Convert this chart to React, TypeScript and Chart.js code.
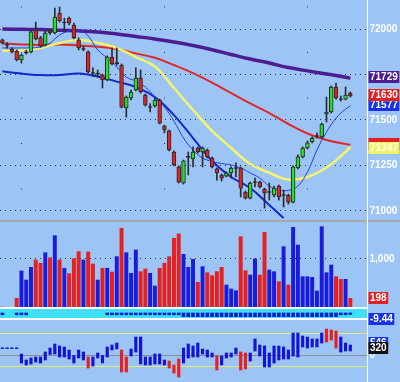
import React, { useEffect, useRef } from 'react';
import { Chart, registerables } from 'chart.js';

Chart.register(...registerables);

const FONT = '"Liberation Sans", Arial, Helvetica, sans-serif';
const BG = '#9cc5f6';
const SLOTS = 77;
const slotLabels = Array.from({ length: SLOTS }, (_, i) => String(i));

// ---------- price candles ----------
const opens = [71940,71915,71890,71879,71830,71868,71874,71995,71951,71912,71990,71978,72088,72033,72060,72022,71940,71888,71874,71760,71752,71747,71720,71846,71810,71802,71566,71621,71665,71731,71637,71569,71577,71610,71467,71440,71324,71242,71154,71295,71286,71346,71324,71335,71291,71231,71198,71192,71209,71234,71236,71104,71071,71157,71159,71121,71102,71088,71137,71086,71088,71049,71236,71297,71346,71379,71410,71407,71533,71544,71681,71617,71615,71648];
const closes = [71923,71910,71874,71830,71857,71874,71984,71945,71907,71978,71978,72066,72044,72038,72033,71951,71896,71893,71764,71756,71758,71720,71846,71808,71815,71571,71626,71654,71731,71654,71582,71574,71610,71483,71445,71335,71253,71159,71275,71300,71324,71324,71346,71297,71242,71209,71181,71209,71236,71238,71126,71071,71154,71162,71132,71099,71107,71126,71077,71090,71049,71242,71297,71346,71374,71401,71414,71478,71544,71681,71621,71613,71637,71632];
const highs = [71945,71925,71896,71885,71862,71885,71990,72038,71960,71990,72000,72115,72121,72060,72066,72033,71951,71907,71880,71786,71775,71753,71852,71896,71896,71808,71632,71665,71786,71775,71643,71590,71621,71615,71472,71445,71330,71248,71280,71324,71352,71352,71352,71341,71297,71237,71204,71215,71242,71264,71242,71110,71159,71181,71165,71126,71154,71137,71143,71115,71093,71248,71308,71352,71385,71407,71429,71483,71626,71687,71703,71632,71681,71654];
const lows = [71918,71895,71868,71825,71813,71862,71868,71940,71900,71907,71970,71973,72038,71984,72022,71945,71885,71880,71758,71740,71735,71676,71715,71802,71800,71566,71516,71610,71660,71648,71577,71544,71571,71478,71429,71330,71248,71154,71148,71198,71242,71318,71242,71291,71237,71170,71165,71187,71181,71187,71077,71066,71066,71132,71126,71016,71060,71077,71060,71022,71038,71044,71231,71291,71341,71374,71401,71401,71489,71538,71615,71604,71610,71626];

// ---------- moving averages (read at sampled candles) ----------
const maIdx = [0,4,8,12,16,20,24,28,32,36,40,44,48,52,56,60,64,68,72,73];
const maPurple = [72000,71998,71997,71993,71990,71984,71973,71959,71945,71929,71909,71886,71860,71835,71813,71788,71770,71753,71735,71729];
const maRed = [71921,71915,71912,71915,71909,71903,71890,71866,71842,71802,71758,71706,71648,71591,71538,71478,71426,71390,71368,71363];
const maYellow = [71881,71882,71896,71923,71940,71924,71896,71846,71794,71676,71555,71440,71346,71258,71210,71173,71187,71239,71324,71352];
const maBlueIdx = [0,4,8,12,16,20,24,28,32,36,40,44,48,52,56,59];
const maBlue = [71768,71755,71747,71747,71755,71739,71711,71681,71626,71527,71401,71275,71187,71126,71033,70961];
const maFastIdx = [0,4,8,10,12,14,16,18,20,22,24,26,28,30,32,34,36,38,40,42,44,46,48,50,52,54,56,58,60,62,64,66,68,70,72,73];
const maFast = [71896,71896,71901,71923,71967,71989,71997,71962,71885,71841,71791,71736,71714,71681,71626,71571,71494,71401,71335,71291,71272,71261,71253,71236,71209,71181,71137,71115,71113,71137,71214,71335,71434,71510,71560,71577];

const priceTicks = [71000, 71250, 71500, 71750, 72000];
const priceTickLabels = ['71000', '71250', '71500', '', '72000'];
const priceMarkers = [
  { value: 71577, text: '71577', color: '#1a32e6', fg: '#ffffff', dy: -1 },
  { value: 71630, text: '71630', color: '#e42020', fg: '#ffffff', dy: -1.5 },
  { value: 71729, text: '71729', color: '#4c1d90', fg: '#ffffff', dy: -1 },
  { value: 71363, text: '', color: '#e42020', fg: '#ffffff', dy: -0.5 },
  { value: 71347, text: '71347', color: '#f2f26a', fg: '#fffff0', dy: 0 },
];

// ---------- volume ----------
const volume = [20,0,0,198,755,571,830,979,912,1128,1026,1475,979,810,700,1006,1149,979,1142,898,571,810,810,734,1047,1626,1128,708,1183,741,796,708,449,810,912,1047,1422,1510,1095,830,993,524,843,720,659,741,830,469,388,353,1455,761,673,1000,673,1544,775,741,537,1251,469,1646,1285,639,639,626,347,1659,720,877,639,585,585,198];
const volTicks = [1000];
const volTickLabels = ['1,000'];
const volMarkers = [{ value: 198, text: '198', color: '#e42020', fg: '#ffffff', dy: 0 }];

// ---------- thin strip indicator ----------
const strip = [-12,null,null,-12,-12,-12,null,null,null,null,null,null,null,null,null,null,null,null,null,null,null,null,-12,-12,-12,-12,-12,-12,-12,-12,-12,-12,-12,-12,-12,-12,-12,-12,-25,-25,-25,-25,-25,-25,-25,-25,-25,-25,-25,-25,-25,-25,-25,-25,-25,-25,-25,-25,-25,-25,-25,-25,-25,-25,-25,-25,-25,-25,-25,-25,-25,-12,-12,-9.44];
const stripMarkers = [{ value: -9.44, text: '-9.44', color: '#1a32e6', fg: '#ffffff', dy: 4.3 }];

// ---------- oscillator ----------
const oscHigh = [330,330,330,330,45,-227,-136,-91,-91,136,318,500,409,364,227,0,227,136,-91,-91,91,0,364,455,545,227,-91,273,818,818,-91,-91,45,45,-227,-273,-455,-182,318,500,409,545,273,227,91,-45,-45,91,91,318,136,91,91,727,455,409,91,409,409,364,227,1000,1000,864,818,727,727,1000,1182,1136,1091,818,545,455];
const oscLow = [290,290,290,290,-364,-455,-409,-318,-364,-227,0,45,-91,-91,-182,-364,-136,-227,-591,-500,-136,-364,-91,227,273,-773,-773,-45,136,-409,-455,-455,-409,-409,-455,-591,-818,-1000,-364,-136,-91,-91,45,-91,-91,-682,-455,-136,-91,45,-682,-636,-273,182,-45,-545,-545,-364,-227,-182,-182,-45,-91,364,318,364,364,545,591,682,318,136,182,182];
const oscDir = 'bbbbbbbbbbbbbbbbbbrbbbbbbrrbbbbbbbbrrrbbbbbbbrbbbbrrbbbbbbbbbbbbbbbbrrrbbb';
const oscTicks = [-545, 0, 1000];
const oscTickLabels = ['', '0', ''];
const oscMarkers = [
  { value: 546, text: '546', color: '#1a32e6', fg: '#ffffff', dy: 0 },
  { value: 320, text: '320', color: '#101010', fg: '#ffffff', dy: 0 },
];

// ---------- helpers ----------
const UP = '#25e025';
const DOWN = '#e42222';
const DOJI = '#2a2a2a';
const sparse = (idx: number[], vals: number[]) => {
  const a: (number | null)[] = new Array(SLOTS).fill(null);
  idx.forEach((k, j) => { a[k] = vals[j]; });
  return a;
};

type Marker = { value: number; text: string; color: string; fg: string; dy: number };

const markerPlugin = (markers: Marker[]) => ({
  id: 'markers',
  afterDraw(chart: any) {
    const s = chart.scales.y;
    const ctx = chart.ctx;
    ctx.save();
    ctx.font = `bold 10px ${FONT}`;
    ctx.textBaseline = 'middle';
    ctx.textAlign = 'left';
    for (const m of markers) {
      const y = s.getPixelForValue(m.value) + m.dy;
      const w = ctx.measureText(m.text || '00000').width + 3;
      const x = s.left + 1.5;
      ctx.fillStyle = m.color;
      ctx.fillRect(x, Math.round(y - 6), w, 12);
      if (m.text) {
        ctx.fillStyle = m.fg;
        ctx.fillText(m.text, x + 1.5, Math.round(y) + 0.5);
      }
    }
    ctx.restore();
  },
});

const xAxis = (gridTicks: number[] | null) => ({
  type: 'category',
  offset: true,
  ticks: { display: false },
  grid: { display: !!gridTicks, drawTicks: false, offset: false, color: '#2a3248', lineWidth: 1 },
  border: { display: false, dash: [1, 44.5], dashOffset: 39 },
  afterBuildTicks: (s: any) => { if (gridTicks) s.ticks = gridTicks.map((v) => ({ value: v })); },
});

const yAxis = (min: number, max: number, ticks: number[], labels: string[], gridColor: any, dash: number[]) => ({
  position: 'right',
  min,
  max,
  afterBuildTicks: (s: any) => { s.ticks = ticks.map((v) => ({ value: v })); },
  afterFit: (s: any) => { s.width = 33; s.paddingTop = 0; s.paddingBottom = 0; },
  ticks: {
    display: ticks.length > 0,
    autoSkip: false,
    color: '#ffffff',
    padding: 2.5,
    font: { family: FONT, size: 10, weight: 'bold' },
    callback: (v: any) => { const k = ticks.indexOf(Number(v)); return k >= 0 ? labels[k] : ''; },
  },
  grid: { display: ticks.length > 0, drawTicks: false, color: gridColor, lineWidth: 1 },
  border: { display: false, dash },
});

const baseOptions = (padding: any) => ({
  responsive: false,
  animation: false,
  devicePixelRatio: 1,
  events: [],
  layout: { padding },
  plugins: { legend: { display: false }, tooltip: { enabled: false } },
});

function priceConfig(): any {
  const lineDs = (data: any, color: string, width: number, order: number) => ({
    type: 'line', data, borderColor: color, borderWidth: width, pointRadius: 0,
    tension: 0.4, spanGaps: true, order, fill: false,
  });
  return {
    type: 'bar',
    data: {
      labels: slotLabels,
      datasets: [
        lineDs(sparse(maIdx, maPurple), '#4c1d90', 3.5, 10),
        lineDs(sparse(maIdx, maRed), '#e02828', 2, 9),
        lineDs(sparse(maIdx, maYellow), '#f4f46c', 2.5, 8),
        lineDs(sparse(maBlueIdx, maBlue), '#1428c8', 2, 7),
        lineDs(sparse(maFastIdx, maFast), '#2040e6', 1, 6),
        {
          type: 'bar', data: lows.map((l, i) => [l, highs[i]]), backgroundColor: '#2a2a2a',
          barThickness: 1, grouped: false, order: 1,
        },
        {
          type: 'bar', data: opens.map((o, i) => [o, closes[i]]),
          backgroundColor: opens.map((o, i) => (Math.abs(closes[i] - o) < 8 ? DOJI : closes[i] >= o ? UP : DOWN)),
          borderColor: '#262626', borderWidth: 1, borderSkipped: false,
          barThickness: 3.8, grouped: false, order: 0,
        },
      ],
    },
    options: {
      ...baseOptions(0),
      scales: {
        x: xAxis([4, 34, 64]),
        y: yAxis(70950.5, 72159.4, priceTicks, priceTickLabels, '#2a3248', [1, 4]),
      },
    },
    plugins: [markerPlugin(priceMarkers)],
  };
}

function volumeConfig(): any {
  return {
    type: 'bar',
    data: {
      labels: slotLabels,
      datasets: [{
        data: volume,
        backgroundColor: opens.map((o, i) => (closes[i] >= o ? '#1b1be0' : '#e42020')),
        barThickness: 3.3, grouped: false,
      }],
    },
    options: {
      ...baseOptions(0),
      scales: {
        x: xAxis(null),
        y: yAxis(0, 1754, volTicks, volTickLabels, '#2a3248', [1, 4]),
      },
    },
    plugins: [markerPlugin(volMarkers)],
  };
}

function stripConfig(): any {
  return {
    type: 'bar',
    data: {
      labels: slotLabels,
      datasets: [{ data: strip, backgroundColor: '#1a1ad0', barThickness: 3, grouped: false }],
    },
    options: {
      ...baseOptions({ top: 3, bottom: 10, left: 0, right: 0 }),
      scales: {
        x: xAxis(null),
        y: yAxis(-26, 19, [], [], 'rgba(0,0,0,0)', []),
      },
    },
    plugins: [markerPlugin(stripMarkers)],
  };
}

function oscConfig(): any {
  return {
    type: 'bar',
    data: {
      labels: slotLabels,
      datasets: [{
        data: oscLow.map((l, i) => [l, oscHigh[i]]),
        backgroundColor: oscDir.split('').map((d) => (d === 'r' ? '#e42020' : '#1414d8')),
        barThickness: 2.5, grouped: false,
      }],
    },
    options: {
      ...baseOptions(0),
      scales: {
        x: xAxis(null),
        y: yAxis(-1227, 1591, oscTicks, oscTickLabels,
          (c: any) => (c.tick && c.tick.value === 0 ? '#8c8c8c' : '#e2ec7a'), []),
      },
    },
    plugins: [markerPlugin(oscMarkers)],
  };
}

function Panel({ top, height, build }: { top: number; height: number; build: () => any }) {
  const ref = useRef<HTMLCanvasElement>(null);
  useEffect(() => {
    const chart = new Chart(ref.current as HTMLCanvasElement, build());
    return () => chart.destroy();
  }, []);
  return (
    <canvas
      ref={ref}
      width={400}
      height={height}
      style={{ position: 'absolute', left: 0, top, width: 400, height, display: 'block' }}
    />
  );
}

export default function App() {
  return (
    <div style={{ position: 'fixed', left: 0, top: 0, width: 400, height: 382, background: BG, overflow: 'hidden' }}>
      <Panel top={0} height={220} build={priceConfig} />
      <div style={{ position: 'absolute', left: 0, top: 220, width: 400, height: 2, background: '#a9a9a9' }} />
      <Panel top={222} height={86} build={volumeConfig} />
      <Panel top={320} height={62} build={oscConfig} />
      <div style={{
        position: 'absolute', left: 0, top: 307, width: 367, height: 13, boxSizing: 'border-box',
        background: '#3ee0f7', borderTop: '2px solid #ffffff', borderBottom: '2px solid #ffffff',
      }} />
      <Panel top={307} height={20} build={stripConfig} />
      <div style={{ position: 'absolute', left: 367, top: 0, width: 1, height: 382, background: '#ffffff' }} />
    </div>
  );
}
